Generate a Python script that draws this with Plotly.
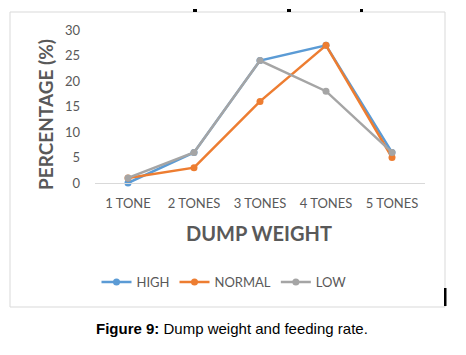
import plotly.graph_objects as go

categories = ["1 TONE", "2 TONES", "3 TONES", "4 TONES", "5 TONES"]
high = [0, 6, 24, 27, 6]
normal = [1, 3, 16, 27, 5]
low = [1, 6, 24, 18, 6]
y_ticks = [0, 5, 10, 15, 20, 25, 30]

OFF = 8  # browser body margin
W, H = 466 - OFF, 355 - OFF
# plot area in reference pixel coordinates
X0, X1, Y0, Y1 = 95, 425, 30, 183
L, T = X0 - OFF, Y0 - OFF
R = W - (X1 - OFF)
B = H - (Y1 - OFF)
pw, ph = X1 - X0, Y1 - Y0

def px(x):
    return (x - X0) / pw

def py(y):
    return (Y1 - y) / ph

fig = go.Figure()
series = [("HIGH", high, "#5B9BD5"), ("NORMAL", normal, "#ED7D31"), ("LOW", low, "#A5A5A5")]
for name, vals, col in series:
    fig.add_trace(go.Scatter(
        x=categories, y=vals, name=name, mode="lines+markers",
        line=dict(color=col, width=2.5), marker=dict(color=col, size=7),
        cliponaxis=False,
    ))

gray = "#595959"
ticks = [(193, 197), (287, 291), (360, 363)]
shapes = [dict(type="rect", xref="paper", yref="paper", x0=px(10), x1=px(445), y0=py(307), y1=py(12),
               line=dict(color="#d9d9d9", width=1), layer="below")]
for a, b in ticks:
    shapes.append(dict(type="rect", xref="paper", yref="paper", x0=px(a), x1=px(b), y0=py(12), y1=py(9),
                       line=dict(width=0), fillcolor="black"))
shapes.append(dict(type="rect", xref="paper", yref="paper", x0=px(444), x1=px(446.5), y0=py(306), y1=py(288),
                   line=dict(width=0), fillcolor="black"))

fig.update_layout(
    width=W, height=H,
    margin=dict(l=L, r=R, t=T, b=B, autoexpand=False),
    paper_bgcolor="white", plot_bgcolor="white",
    font=dict(family="Lato", color=gray, size=13),
    showlegend=True,
    legend=dict(orientation="h", x=px(224), xanchor="center", y=py(282), yanchor="middle",
                font=dict(size=13, color=gray), itemwidth=30, tracegroupgap=0),
    xaxis=dict(type="category", range=[-0.5, 4.5], showgrid=False, showline=True,
               linecolor="#d9d9d9", linewidth=1, ticks="", tickfont=dict(size=13, color=gray),
               zeroline=False, ticklabelstandoff=8),
    yaxis=dict(range=[0, 30], tickvals=y_ticks, showgrid=False, showline=False, zeroline=False,
               ticks="", tickfont=dict(size=13, color=gray), ticklabelstandoff=14),
    shapes=shapes,
    annotations=[
        dict(text="<b>PERCENTAGE (%)</b>", xref="paper", yref="paper", x=px(45), y=py(115),
             textangle=-90, showarrow=False, font=dict(size=19, color=gray, family="Lato"),
             xanchor="center", yanchor="middle"),
        dict(text="<b>DUMP WEIGHT</b>", xref="paper", yref="paper", x=px(259), y=py(233),
             showarrow=False, font=dict(size=20, color=gray, family="Lato"),
             xanchor="center", yanchor="middle"),
        dict(text="<b>Figure 9:</b> Dump weight and feeding rate.", xref="paper", yref="paper",
             x=px(232), y=py(328), showarrow=False,
             font=dict(size=15, color="black", family="Liberation Sans"),
             xanchor="center", yanchor="middle"),
    ],
)

fig.write_html("out.html")
